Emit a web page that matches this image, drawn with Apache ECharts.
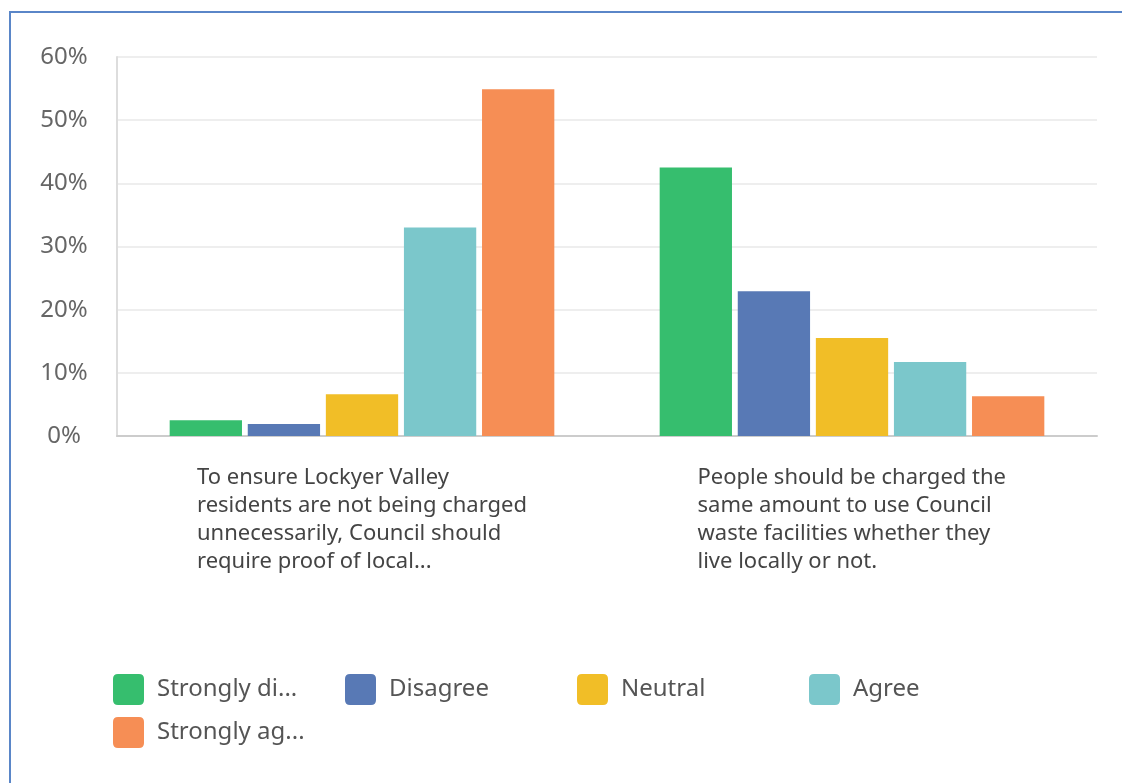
<!DOCTYPE html>
<html>
<head>
<meta charset="utf-8">
<script src="https://cdn.jsdelivr.net/npm/echarts@6/dist/echarts.min.js"></script>
<style>
  html, body { margin: 0; padding: 0; background: #fff; overflow: hidden; }
  #frame { position: absolute; left: 9px; top: 11px; width: 1200px; height: 900px;
           border-top: 2px solid #5a86c8; border-left: 2px solid #5a86c8; }
  #main { position: absolute; left: 0; top: 0; width: 1122px; height: 783px; }
</style>
</head>
<body>
<div id="frame"></div>
<div id="main"></div>
<script>
	// questions (line breaks as shown)
	var questions = [
		'To ensure Lockyer Valley\nresidents are not being charged\nunnecessarily, Council should\nrequire proof of local...',
		'People should be charged the\nsame amount to use Council\nwaste facilities whether they\nlive locally or not.'
	];
	var seriesNames = ['Strongly disagree', 'Disagree', 'Neutral', 'Agree', 'Strongly agree'];
	var legendLabels = ['Strongly di...', 'Disagree', 'Neutral', 'Agree', 'Strongly ag...'];
	var colors = ['#36be6e', '#5879b5', '#f1be27', '#7bc7cb', '#f68e55'];

	// percent per answer, one value per question
	var stronglyDisagree = [2.5, 42.5];
	var disagree = [1.9, 22.9];
	var neutral = [6.6, 15.5];
	var agree = [33.0, 11.7];
	var stronglyAgree = [54.9, 6.3];

	var yTicks = [0, 10, 20, 30, 40, 50, 60];

	var allData = [stronglyDisagree, disagree, neutral, agree, stronglyAgree];

	var labelFont = '22px "Noto Sans"';

	// widest line of each question, so the block is centred but lines start left
	var ctx = document.createElement('canvas').getContext('2d');
	ctx.font = labelFont;
	var rich = {};
	questions.forEach(function (q, k) {
		var w = 0;
		q.split('\n').forEach(function (l) { w = Math.max(w, ctx.measureText(l).width); });
		rich['q' + k] = {
			width: Math.ceil(w),
			align: 'left',
			fontSize: 22,
			lineHeight: 28,
			color: '#444',
			fontFamily: 'Noto Sans'
		};
	});

	var chart = echarts.init(document.getElementById('main'));

	var series = [];
	for (var i = 0; i < seriesNames.length; i++) {
		series.push({
			name: seriesNames[i],
			type: 'bar',
			data: allData[i],
			barGap: '8%',
			barCategoryGap: '21.5%',
			itemStyle: { color: colors[i] }
		});
	}

	var option = {
		animation: false,
		color: colors,
		textStyle: { fontFamily: 'Noto Sans' },
		grid: {
			left: 117,
			right: 25,
			top: 57,
			bottom: 347,
			containLabel: false
		},
		legend: {
			left: 113,
			top: 674,
			padding: 0,
			width: 960,
			itemWidth: 31,
			itemHeight: 31,
			itemGap: 12,
			icon: 'path://M5,0 H26 Q31,0 31,5 V26 Q31,31 26,31 H5 Q0,31 0,26 V5 Q0,0 5,0 Z',
			formatter: function (name) {
				return legendLabels[seriesNames.indexOf(name)];
			},
			textStyle: {
				fontSize: 24,
				color: '#555',
				width: 176,
				lineHeight: 31,
				padding: [0, 0, 0, 8]
			},
			data: seriesNames
		},
		xAxis: {
			type: 'category',
			data: questions,
			axisLine: { lineStyle: { color: '#cccccc', width: 2 } },
			axisTick: { show: false },
			axisLabel: {
				interval: 0,
				margin: 28,
				align: 'center',
				formatter: function (value, idx) {
					var k = questions.indexOf(value);
					return value.split('\n').map(function (l) { return '{q' + k + '|' + l + '}'; }).join('\n');
				},
				rich: rich
			}
		},
		yAxis: {
			type: 'value',
			min: yTicks[0],
			max: yTicks[yTicks.length - 1],
			interval: 10,
			axisLine: { show: true, lineStyle: { color: '#dddddd', width: 2 } },
			axisTick: { show: false },
			splitLine: { lineStyle: { color: '#eeeeee', width: 2 } },
			axisLabel: {
				margin: 53,
				align: 'center',
				fontSize: 24,
				color: '#666',
				formatter: '{value}%'
			}
		},
		series: series
	};

	chart.setOption(option);
</script>
</body>
</html>
